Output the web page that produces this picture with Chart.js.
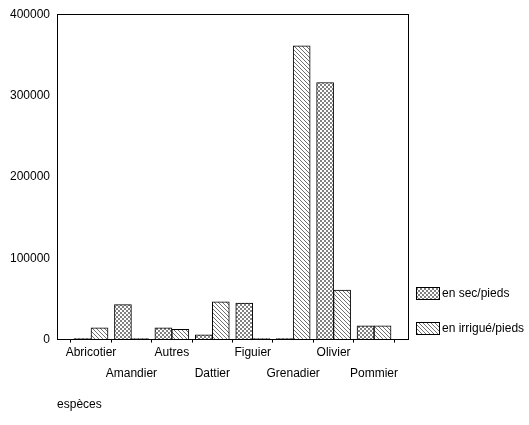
<!DOCTYPE html>
<html>
<head>
<meta charset="utf-8">
<script src="https://cdn.jsdelivr.net/npm/chart.js@4"></script>
<style>
  html, body { margin: 0; padding: 0; background: #fff; }
  #wrap { width: 529px; height: 425px; }
</style>
</head>
<body>
<div id="wrap"><canvas id="chart"></canvas></div>
<script>
// données
const especes = ['Abricotier', 'Amandier', 'Autres', 'Dattier', 'Figuier', 'Grenadier', 'Olivier', 'Pommier'];
const enSec = [0, 43000, 14500, 6000, 45000, 0, 316000, 17000];
const enIrrigue = [14500, 0, 12500, 46500, 0, 361000, 61000, 17000];
const yTicks = [0, 100000, 200000, 300000, 400000];

// motifs de remplissage
function motifSec() {
    const c = document.createElement('canvas');
    c.width = 4; c.height = 4;
    const g = c.getContext('2d');
    g.fillStyle = '#fff';
    g.fillRect(0, 0, 4, 4);
    g.fillStyle = '#808080';
    g.fillRect(0, 0, 2, 2);
    g.fillRect(2, 2, 2, 2);
    return g.createPattern(c, 'repeat');
}

function motifIrrigue() {
    const c = document.createElement('canvas');
    c.width = 4; c.height = 4;
    const g = c.getContext('2d');
    g.fillStyle = '#fff';
    g.fillRect(0, 0, 4, 4);
    g.fillStyle = '#707070';
    for (let i = 0; i < 4; i++) {
        g.fillRect(i, i, 1, 1);
    }
    return g.createPattern(c, 'repeat');
}

// cadre autour de la zone du graphique + légende à droite
const cadre = {
    id: 'cadre',
    afterDraw(chart) {
        const a = chart.chartArea;
        const ctx = chart.ctx;
        ctx.save();
        ctx.strokeStyle = '#000';
        ctx.lineWidth = 1;
        ctx.strokeRect(Math.round(a.left) + 0.5, Math.round(a.top) + 0.5,
            Math.round(a.right - a.left), Math.round(a.bottom - a.top));

        // légende
        const x = Math.round(a.right) + 8;
        const centres = [a.bottom - 47, a.bottom - 12];
        ctx.font = '12px "Liberation Sans"';
        ctx.textBaseline = 'middle';
        ctx.textAlign = 'left';
        chart.data.datasets.forEach((ds, i) => {
            const y = Math.round(centres[i] - 6);
            ctx.fillStyle = ds.backgroundColor;
            ctx.fillRect(x, y, 23, 12);
            ctx.strokeStyle = '#000';
            ctx.strokeRect(x + 0.5, y + 0.5, 23, 12);
            ctx.fillStyle = '#000';
            ctx.fillText(ds.label, x + 26, centres[i] + 1);
        });
        ctx.restore();
    }
};

const ctx = document.getElementById('chart').getContext('2d');
new Chart(ctx, {
    type: 'bar',
    data: {
        datasets: [{
            label: 'en sec/pieds',
            data: especes.map((e, i) => ({ x: i, y: enSec[i] })),
            backgroundColor: motifSec(),
            borderColor: '#000',
            borderWidth: 1,
            minBarLength: 1
        }, {
            label: 'en irrigué/pieds',
            data: especes.map((e, i) => ({ x: i, y: enIrrigue[i] })),
            backgroundColor: motifIrrigue(),
            borderColor: '#000',
            borderWidth: 1,
            minBarLength: 1
        }]
    },
    options: {
        responsive: true,
        maintainAspectRatio: false,
        animation: false,
        layout: { padding: { left: 3, top: 5, right: 121, bottom: 13 } },
        datasets: { bar: { barThickness: 17 } },
        scales: {
            x: {
                type: 'linear',
                offset: false,
                min: -0.84,
                max: 7.84,
                border: { color: '#000', width: 1 },
                grid: { drawOnChartArea: false, tickLength: 3, tickColor: '#000' },
                afterBuildTicks: function(axis) {
                    axis.ticks = especes.map((e, i) => ({ value: i }));
                },
                ticks: {
                    autoSkip: false,
                    maxRotation: 0,
                    color: '#000',
                    font: { family: 'Liberation Sans', size: 12, lineHeight: 1.75 },
                    padding: 0,
                    callback: function(v) {
                        const i = Math.round(v);
                        if (i < 0 || i >= especes.length) return '';
                        return i % 2 === 0 ? [especes[i]] : ['', especes[i]];
                    }
                },
                title: {
                    display: true,
                    text: 'espèces',
                    align: 'start',
                    color: '#000',
                    font: { family: 'Liberation Sans', size: 12 },
                    padding: { top: 13, bottom: 0 }
                }
            },
            y: {
                min: 0,
                max: 400000,
                border: { color: '#000', width: 1 },
                grid: { drawOnChartArea: false, drawTicks: false },
                afterBuildTicks: function(axis) {
                    axis.ticks = yTicks.map(v => ({ value: v }));
                },
                ticks: {
                    color: '#000',
                    font: { family: 'Liberation Sans', size: 12 },
                    padding: 7,
                    callback: v => String(v)
                }
            }
        },
        plugins: {
            legend: { display: false },
            tooltip: { enabled: false }
        }
    },
    plugins: [cadre]
});
</script>
</body>
</html>
